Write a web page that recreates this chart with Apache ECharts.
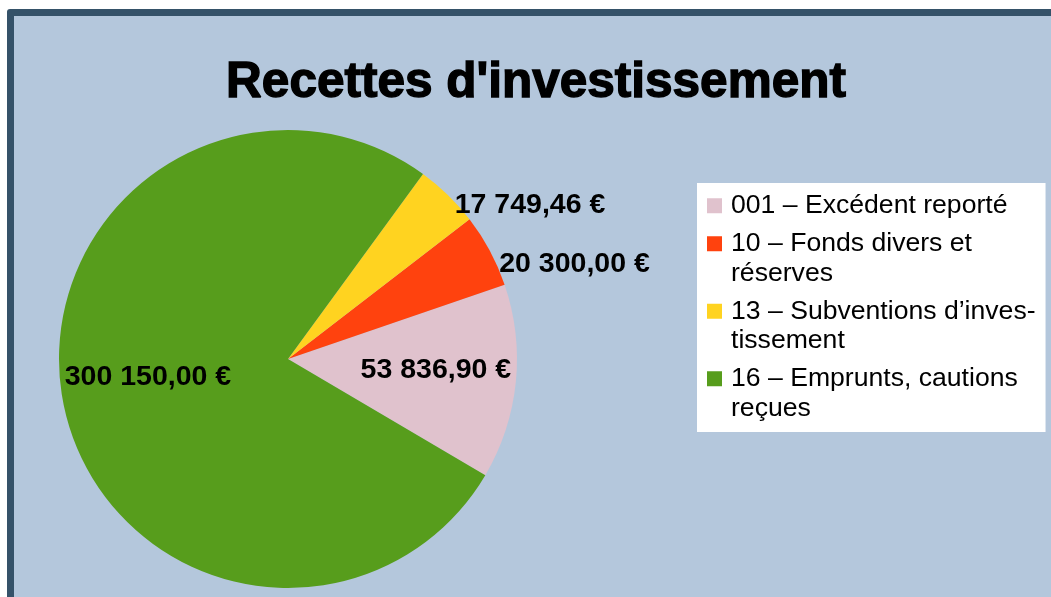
<!DOCTYPE html>
<html>
<head>
<meta charset="utf-8">
<script src="https://cdn.jsdelivr.net/npm/echarts@6/dist/echarts.min.js"></script>
<style>
  html, body { margin: 0; padding: 0; background: #fff; overflow: hidden; }
  #frame {
    position: absolute; left: 7px; top: 9px; width: 1100px; height: 650px;
    border: 7px solid #355269; border-radius: 3px; background: #b4c7dc;
  }
  #chart { position: absolute; left: 0; top: 0; width: 1051px; height: 597px; }
</style>
</head>
<body>
<div id="frame"></div>
<div id="chart"></div>
<script>
// categories and amounts (€)
var categories = [
  '001 – Excédent reporté',
  '10 – Fonds divers et réserves',
  '13 – Subventions d’investissement',
  '16 – Emprunts, cautions reçues'
]
// legend text, wrapped as in the original
var legendText = [
  '001 – Excédent reporté',
  '10 – Fonds divers et\nréserves',
  '13 – Subventions d’inves-\ntissement',
  '16 – Emprunts, cautions\nreçues'
]
var amounts = [53836.90, 20300.00, 17749.46, 300150.00]
var colors = ['#e0c2cd', '#ff420e', '#ffd320', '#579d1c']

// nudges of each value label from its default inside spot
var labelShift = [[31, -1], [183, -39], [160, -70], [-25, -6]]

function euro(v){
  var parts = v.toFixed(2).split('.')
  return parts[0].replace(/\B(?=(\d{3})+(?!\d))/g, ' ') + ',' + parts[1] + ' €'
}

var mychart = echarts.init(document.getElementById('chart'), null, {renderer: 'canvas'})
var option = {
  animation: false,
  color: colors,
  title: {
    text: "Recettes d'investissement",
    left: 531,
    top: 53,
    textAlign: 'center',
    textStyle: {
      fontFamily: 'Liberation Sans', fontWeight: 'bold', fontSize: 49.5, color: '#000',
      textBorderColor: '#000', textBorderWidth: 1.4
    }
  },
  legend: {
    orient: 'vertical',
    left: 697,
    top: 183,
    padding: [8, 10, 9, 10],
    itemGap: -21,
    itemWidth: 15,
    itemHeight: 15,
    icon: 'rect',
    selectedMode: false,
    backgroundColor: '#ffffff',
    data: categories,
    // a blank first line keeps the swatch level with the first text line
    formatter: function(name){
      var t = legendText[categories.indexOf(name)]
      return t.indexOf('\n') >= 0 ? '\n' + t : t
    },
    textStyle: {fontFamily: 'Liberation Sans', fontSize: 26.6, lineHeight: 29.5, color: '#000', padding: [0, 0, 0, 4]}
  },
  series: [{
    type: 'pie',
    center: [288, 359],
    radius: 229,
    startAngle: -30.5,
    clockwise: false,
    silent: true,
    avoidLabelOverlap: false,
    label: {
      show: true,
      position: 'inside',
      formatter: function(p){ return euro(p.value) },
      fontFamily: 'Liberation Sans',
      fontWeight: 'bold',
      fontSize: 28.5,
      color: '#000'
    },
    labelLine: {show: false},
    labelLayout: function(params){
      var s = labelShift[params.dataIndex]
      return {dx: s[0], dy: s[1]}
    },
    itemStyle: {borderWidth: 0},
    emphasis: {disabled: true},
    data: categories.map(function(c, i){ return {name: c, value: amounts[i]} })
  }]
}
mychart.setOption(option)
</script>
</body>
</html>
